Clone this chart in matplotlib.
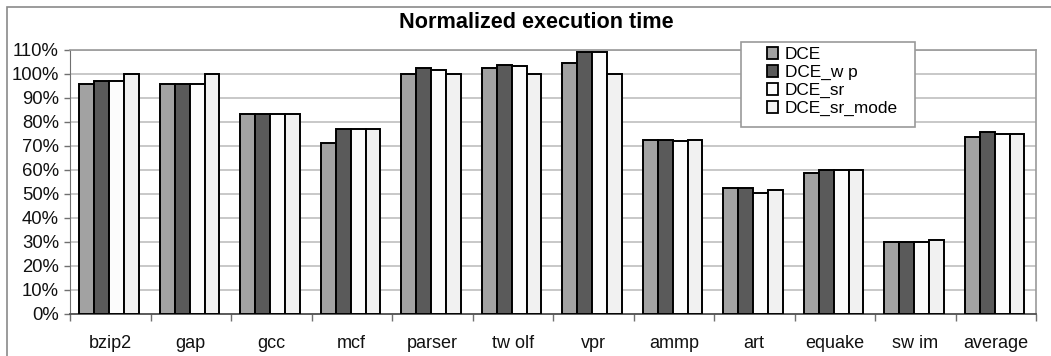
import numpy as np
import matplotlib.pyplot as plt
from matplotlib.patches import Rectangle, Patch
from matplotlib.ticker import PercentFormatter

plt.rcParams['font.family'] = ['Liberation Sans', 'DejaVu Sans']

benchmarks = ['bzip2', 'gap', 'gcc', 'mcf', 'parser', 'tw olf', 'vpr',
              'ammp', 'art', 'equake', 'sw im', 'average']
series_names = ['DCE', 'DCE_w p', 'DCE_sr', 'DCE_sr_mode']

dce = [95.7, 95.7, 83.3, 71.1, 99.8, 102.5, 104.6, 72.5, 52.4, 58.9, 30.0, 73.9]
dce_wp = [97.0, 95.7, 83.3, 77.1, 102.5, 103.9, 109.3, 72.5, 52.4, 60.0, 30.0, 76.0]
dce_sr = [97.0, 95.7, 83.3, 77.1, 101.8, 103.2, 109.3, 72.0, 50.5, 60.0, 30.0, 75.1]
dce_sr_mode = [100.0, 100.0, 83.3, 77.1, 99.8, 99.8, 99.8, 72.5, 51.7, 60.0, 30.8, 75.1]

colors = ['#a2a2a2', '#5a5a5a', '#fcfcfc', '#f1f1f1']

W, H = 1051, 356
fig = plt.figure(figsize=(W / 100, H / 100), dpi=100)

# outer chart frame (right / bottom sides run off the picture)
fig.patches.append(Rectangle((7 / W, -0.1), 1.2, 1 - 7 / H + 0.1, transform=fig.transFigure,
                             fill=False, edgecolor='#8a8a8a', linewidth=1.2))

left, right, top, bottom = 70, 1036, 50, 314
ax = fig.add_axes([left / W, 1 - bottom / H, (right - left) / W, (bottom - top) / H])

x = np.arange(len(benchmarks))
bw = 0.186
all_series = [dce, dce_wp, dce_sr, dce_sr_mode]
for k, (vals, col) in enumerate(zip(all_series, colors)):
    ax.bar(x + (k - 1.5) * bw - 0.015, vals, width=bw, color=col,
           edgecolor='black', linewidth=1.4, zorder=3)

ax.set_xlim(-0.5, len(benchmarks) - 0.5)
ax.set_ylim(0, 110)
ax.set_yticks(np.arange(0, 111, 10))
ax.yaxis.set_major_formatter(PercentFormatter(decimals=0))
ax.tick_params(axis='y', length=4, width=1, color='#707070', labelsize=13.3, pad=4, labelcolor='#111111')

ax.set_xticks(x)
ax.set_xticklabels(benchmarks, fontsize=13, color='#111111')
ax.set_xticks(np.arange(-0.5, len(benchmarks)), minor=True)
ax.tick_params(axis='x', which='major', length=0, pad=15)
ax.tick_params(axis='x', which='minor', length=5, width=1, color='#707070')

ax.grid(axis='y', color='#c4c4c4', linewidth=1.3, zorder=0)
ax.set_axisbelow(True)
for s in ['top', 'right']:
    ax.spines[s].set_color('#9a9a9a')
    ax.spines[s].set_linewidth(1.2)
ax.spines['left'].set_color('#707070')
ax.spines['bottom'].set_color('#505050')
ax.spines['bottom'].set_linewidth(1.3)

fig.text(536 / W, 1 - 23 / H, 'Normalized execution time', ha='center', va='center',
         fontsize=15.6, fontweight='bold')

# legend box drawn by hand, entries sit inside it
box = Rectangle((741 / W, 1 - 127 / H), (915 - 741) / W, (127 - 42) / H,
                transform=fig.transFigure, facecolor='white', edgecolor='#9a9a9a',
                linewidth=1.2, zorder=4)
fig.patches.append(box)

handles = [Patch(facecolor=c, edgecolor='black', linewidth=1.3) for c in colors]
leg = fig.legend(handles, series_names, loc='upper left',
                 bbox_to_anchor=(767 / W, 1 - 47 / H), fontsize=12.4,
                 handlelength=0.65, handleheight=0.65, handletextpad=0.4,
                 labelspacing=0.17, borderpad=0.0, frameon=False,
                 borderaxespad=0)
leg.set_zorder(5)

fig.savefig('out.png', dpi=100)
